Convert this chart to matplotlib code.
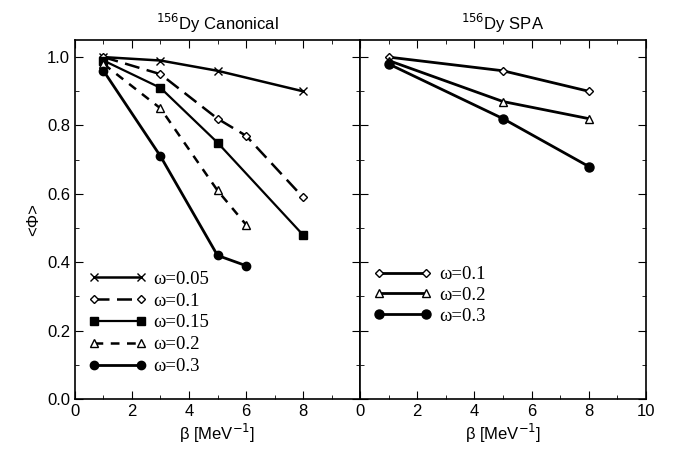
import matplotlib
matplotlib.use("Agg")
import matplotlib.pyplot as plt
from matplotlib.ticker import MultipleLocator

plt.rcParams['font.family'] = ['Liberation Sans', 'DejaVu Sans']

# canonical panel
can_labels = ['ω=0.05', 'ω=0.1', 'ω=0.15', 'ω=0.2', 'ω=0.3']
can_x = [[1, 3, 5, 8], [1, 3, 5, 6, 8], [1, 3, 5, 8], [1, 3, 5, 6], [1, 3, 5, 6]]
can_y = [[1.0, 0.99, 0.96, 0.90],
         [1.0, 0.95, 0.82, 0.77, 0.59],
         [0.99, 0.91, 0.75, 0.48],
         [0.98, 0.85, 0.61, 0.51],
         [0.96, 0.71, 0.42, 0.39]]

# SPA panel
spa_labels = ['ω=0.1', 'ω=0.2', 'ω=0.3']
spa_x = [1, 5, 8]
spa_y = [[1.0, 0.96, 0.90],
         [0.99, 0.87, 0.82],
         [0.98, 0.82, 0.68]]

yticks = [0.0, 0.2, 0.4, 0.6, 0.8, 1.0]

can_style = [
    dict(ls='-', marker='x', mfc='k', ms=6, lw=1.8),
    dict(ls=(0, (6, 3)), marker='D', mfc='white', ms=4.5, lw=1.8),
    dict(ls='-', marker='s', mfc='k', ms=5.5, lw=1.6),
    dict(ls=(0, (3.5, 3)), marker='^', mfc='white', ms=6, lw=1.8),
    dict(ls='-', marker='o', mfc='k', ms=6, lw=2),
]
spa_style = [
    dict(marker='D', mfc='white', ms=4.5),
    dict(marker='^', mfc='white', ms=6),
    dict(marker='o', mfc='k', ms=6.5),
]

fig = plt.figure(figsize=(6.78, 4.5), dpi=100)
ax1 = fig.add_axes([0.1106, 0.1133, 0.4204, 0.7978])
ax2 = fig.add_axes([0.531, 0.1133, 0.4218, 0.7978])

for i in range(len(can_labels)):
    ax1.plot(can_x[i], can_y[i], color='k', mec='k', label=can_labels[i],
             **can_style[i])
for i in range(len(spa_labels)):
    ax2.plot(spa_x, spa_y[i], color='k', mec='k', ls='-', lw=2,
             label=spa_labels[i], **spa_style[i])

for ax in (ax1, ax2):
    ax.set_xlim(0, 10)
    ax.set_ylim(0, 1.05)
    ax.set_xticks([0, 2, 4, 6, 8, 10])
    ax.xaxis.set_minor_locator(MultipleLocator(1))
    ax.set_yticks(yticks)
    ax.yaxis.set_minor_locator(MultipleLocator(0.1))
    ax.tick_params(which='both', direction='in', top=True, right=True,
                   labelsize=12)
    ax.tick_params(which='major', length=6)
    ax.tick_params(which='minor', length=3)
    ax.set_xlabel('β [MeV$^{-1}$]', fontsize=12, labelpad=2)
    for s in ax.spines.values():
        s.set_linewidth(1.2)

ax1.set_xticklabels(['0', '2', '4', '6', '8', ''])
ax1.set_yticklabels(['%.1f' % v for v in yticks])
ax2.tick_params(labelleft=False)
ax1.set_ylabel('<Φ>', fontsize=12)

ax1.set_title('$^{156}$Dy Canonical', fontsize=12, pad=7)
ax2.set_title('$^{156}$Dy SPA', fontsize=12, pad=7)

leg_font = {'family': 'Liberation Serif', 'size': 13.5}
ax1.legend(loc='lower left', bbox_to_anchor=(0.0, 0.03), frameon=False,
           prop=leg_font, numpoints=2, handlelength=3.1, handletextpad=0.4,
           labelspacing=0.25, borderaxespad=0.3)
ax2.legend(loc='lower left', bbox_to_anchor=(0.0, 0.17), frameon=False,
           prop=leg_font, numpoints=2, handlelength=3.1, handletextpad=0.4,
           labelspacing=0.2, borderaxespad=0.3)

fig.savefig('out.png', dpi=100)
